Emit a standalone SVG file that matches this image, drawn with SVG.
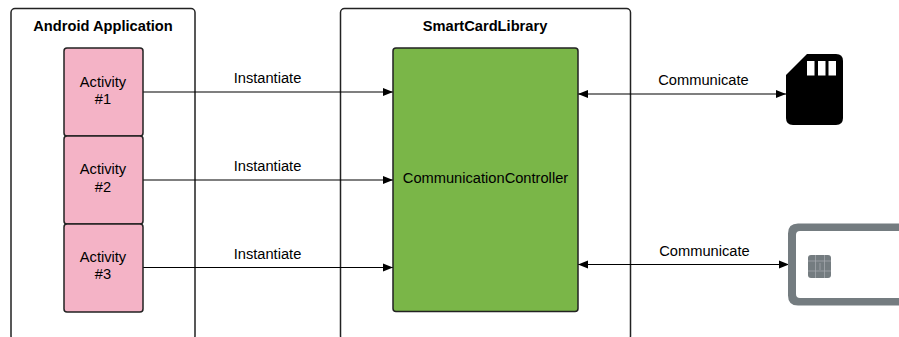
<svg xmlns="http://www.w3.org/2000/svg" width="899" height="337" viewBox="0 0 899 337">
<defs>
<marker id="ah" markerUnits="userSpaceOnUse" markerWidth="11" markerHeight="10" refX="10.5" refY="5" orient="auto-start-reverse"><path d="M0.5 1 L10.500 5 L0.500 9 Z" fill="#000"/></marker>
</defs>
<style>
text{font-family:"Liberation Sans",Arial,sans-serif;font-size:14.67px;fill:#000;text-anchor:middle}
.t{font-weight:bold}
.c{fill:#fff;stroke:#222;stroke-width:1.500}
.a{fill:#f4b3c6;stroke:#222;stroke-width:1.500}
.l{fill:none;stroke:#000;stroke-width:1.200}
</style>
<g id="android-application">
<rect class="c" x="11" y="8.500" width="184" height="331.500" rx="4"/>
<text class="t" x="103" y="31">Android Application</text>
</g>
<g id="smartcard-library">
<rect class="c" x="340.500" y="8.500" width="290" height="331.500" rx="4"/>
<text class="t" x="485" y="31">SmartCardLibrary</text>
</g>
<g id="connectors">
<path class="l" d="M143 92H393" marker-end="url(#ah)"/>
<path class="l" d="M143 180H393" marker-end="url(#ah)"/>
<path class="l" d="M143 267.500H393" marker-end="url(#ah)"/>
<path class="l" d="M578 94H786" marker-start="url(#ah)" marker-end="url(#ah)"/>
<path class="l" d="M578 264.500H789" marker-start="url(#ah)" marker-end="url(#ah)"/>
<text x="267.500" y="83">Instantiate</text>
<text x="267.500" y="171">Instantiate</text>
<text x="267.500" y="259">Instantiate</text>
<text x="703.500" y="85">Communicate</text>
<text x="704.500" y="256">Communicate</text>
</g>
<g id="activity-1">
<rect class="a" x="64" y="48" width="79" height="88" rx="3"/>
<text x="103" y="87">Activity</text><text x="103" y="104">#1</text>
</g>
<g id="activity-2">
<rect class="a" x="64" y="136" width="79" height="88" rx="3"/>
<text x="103" y="174">Activity</text><text x="103" y="192">#2</text>
</g>
<g id="activity-3">
<rect class="a" x="64" y="224" width="79" height="88" rx="3"/>
<text x="103" y="262">Activity</text><text x="103" y="279">#3</text>
</g>
<g id="communication-controller">
<rect x="393" y="48" width="185" height="263.500" rx="3" fill="#7ab648" stroke="#222" stroke-width="1.500"/>
<text x="485.500" y="182.500">CommunicationController</text>
</g>
<g id="sim-card">
<path d="M807 54H836Q843 54 843 61V118Q843 125 836 125H793Q786 125 786 118V75Z" fill="#000"/>
<path d="M807 61h7.500v14.500h-7.500zM818 61h7.500v14.500h-7.500zM828.500 61h7.500v14.500h-7.500z" fill="#fff"/>
</g>
<g id="smart-card">
<path d="M899 223.500H798Q788 223.500 788 233.500V295.500Q788 305.500 798 305.500H899V298H800Q796 298 796 294V235Q796 231 800 231H899Z" fill="#747c80"/>
<rect x="808" y="255" width="23" height="23" rx="3" fill="#747c80"/>
<path d="M808 261H831M808 271H831M815.500 255V278M824.500 255V278M820 263V270" stroke="#a9aeb1" stroke-width="0.700" fill="none"/>
</g>
</svg>
